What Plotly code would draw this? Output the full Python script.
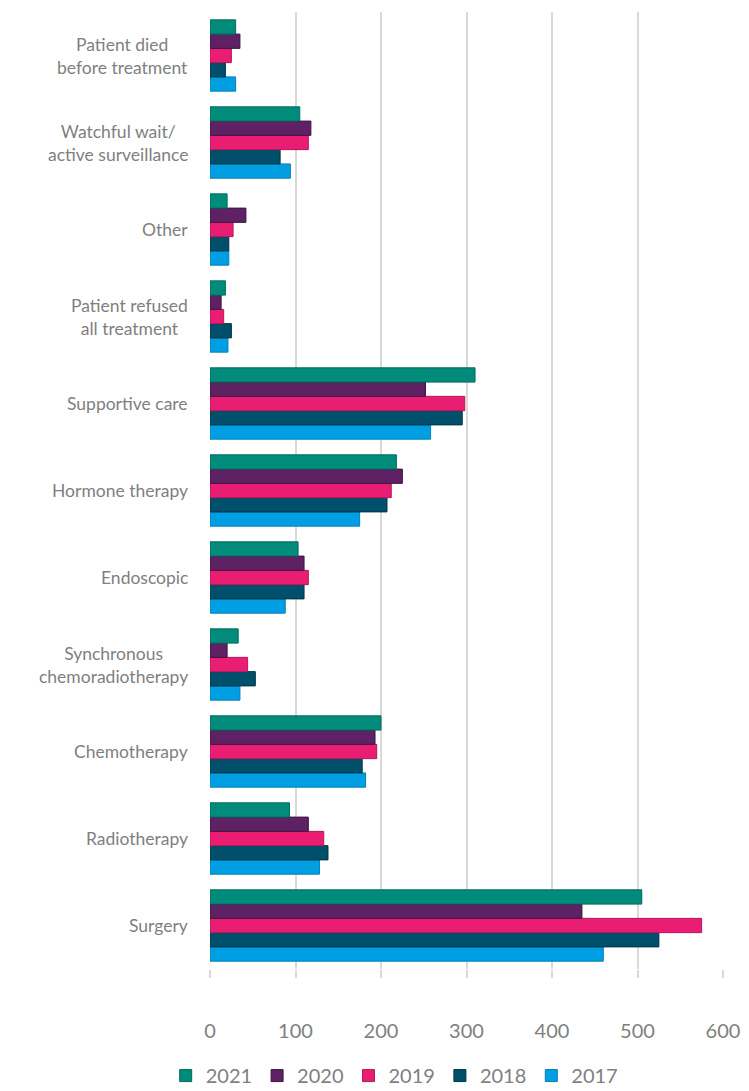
import plotly.graph_objects as go

categories = [
    "Surgery",
    "Radiotherapy",
    "Chemotherapy",
    "Synchronous<br>chemoradiotherapy",
    "Endoscopic",
    "Hormone therapy",
    "Supportive care",
    "Patient refused<br>all treatment",
    "Other",
    "Watchful wait/<br>active surveillance",
    "Patient died<br>before treatment",
]

years = ["2017", "2018", "2019", "2020", "2021"]
v2017 = [460, 128, 182, 35, 88, 175, 258, 21, 22, 94, 30]
v2018 = [525, 138, 178, 53, 110, 207, 295, 25, 22, 82, 18]
v2019 = [575, 133, 195, 44, 115, 212, 298, 16, 27, 115, 25]
v2020 = [435, 115, 193, 20, 110, 225, 252, 13, 42, 118, 35]
v2021 = [505, 93, 200, 33, 103, 218, 310, 18, 20, 105, 30]
values = [v2017, v2018, v2019, v2020, v2021]
colors = ["#009FE3", "#004F6B", "#E91E72", "#5E2163", "#008B7A"]
edge = ["#0080B8", "#003447", "#B8175A", "#3E1442", "#006B5E"]

tick_vals = [0, 100, 200, 300, 400, 500, 600]

FONT = "Lato, Open Sans, sans-serif"
GREY = "#7F7F7F"

fig = go.Figure()
for yr, vals, c, e in zip(years, values, colors, edge):
    fig.add_trace(go.Bar(
        y=categories, x=vals, name=yr, orientation="h",
        marker=dict(color=c, line=dict(color=e, width=1)),
    ))

for cat in categories:
    fig.add_annotation(
        x=0, xref="paper", xanchor="right", xshift=-20,
        y=cat, yref="y", text=cat, showarrow=False, align="center",
        font=dict(family=FONT, size=17.5, color=GREY),
    )

fig.update_layout(
    width=749, height=1091,
    barmode="group", bargap=0.18, bargroupgap=0,
    plot_bgcolor="white", paper_bgcolor="white",
    margin=dict(l=202, r=34, t=4, b=121),
    font=dict(family=FONT, color=GREY),
    legend=dict(
        orientation="h", traceorder="reversed",
        x=0.36, xanchor="center", y=-0.091, yanchor="top",
        font=dict(size=20, color=GREY),
        itemwidth=30,
    ),
    xaxis=dict(
        range=[0, 600], tickvals=tick_vals, automargin=False,
        showgrid=True, gridcolor="#D9D9D9", gridwidth=2,
        zeroline=False, showline=False,
        tickfont=dict(size=20, color=GREY),
        ticks="outside", ticklen=8, tickcolor="#D9D9D9", tickwidth=2,
        ticklabelstandoff=36,
    ),
    yaxis=dict(
        categoryorder="array", categoryarray=categories, automargin=False,
        showticklabels=False, showgrid=False, zeroline=False,
        showline=False,
    ),
)

fig.write_html("out.html")
